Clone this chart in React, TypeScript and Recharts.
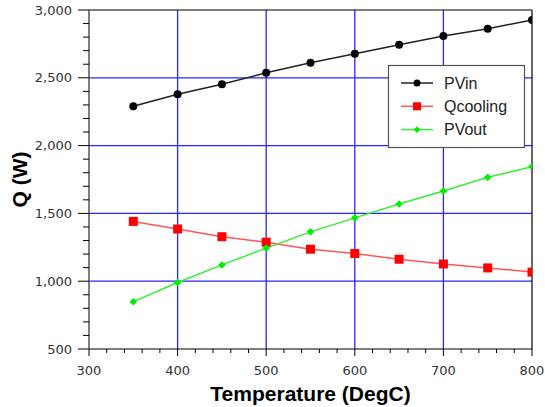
import React from 'react';
import { LineChart, Line, XAxis, YAxis, CartesianGrid, ReferenceLine, Label } from 'recharts';

// ---- data ----
const temperatures = [350, 400, 450, 500, 550, 600, 650, 700, 750, 800];
const pvIn = [2290, 2379, 2453, 2537, 2611, 2678, 2744, 2808, 2862, 2926];
const qCooling = [1441, 1385, 1328, 1288, 1236, 1204, 1162, 1127, 1098, 1067];
const pvOut = [849, 990, 1120, 1244, 1364, 1467, 1569, 1665, 1766, 1845];

const xMajorTicks = [300, 400, 500, 600, 700, 800];
const xAllTicks = [300, 320, 340, 360, 380, 400, 420, 440, 460, 480, 500, 520, 540, 560, 580, 600, 620, 640, 660, 680, 700, 720, 740, 760, 780, 800];
const yMajorTicks = [500, 1000, 1500, 2000, 2500, 3000];
const yAllTicks = [500, 600, 700, 800, 900, 1000, 1100, 1200, 1300, 1400, 1500, 1600, 1700, 1800, 1900, 2000, 2100, 2200, 2300, 2400, 2500, 2600, 2700, 2800, 2900, 3000];
const xGridValues = [400, 500, 600, 700];
const yGridValues = [1000, 1500, 2000, 2500];

const seriesNames = ['PVin', 'Qcooling', 'PVout'];
const xTitle = 'Temperature (DegC)';
const yTitle = 'Q (W)';

const data = temperatures.map((t, i) => ({ t, PVin: pvIn[i], Qcooling: qCooling[i], PVout: pvOut[i] }));

// ---- layout ----
const W = 545;
const H = 407;
const MARGIN = { top: 10, right: 13, bottom: 0, left: 0 };
const Y_AXIS_W = 89;
const X_AXIS_H = 58;
const PLOT_LEFT = MARGIN.left + Y_AXIS_W;
const PLOT_RIGHT = W - MARGIN.right;
const PLOT_TOP = MARGIN.top;
const PLOT_BOTTOM = H - X_AXIS_H - MARGIN.bottom;

const tickFont = { fontFamily: '"DejaVu Sans", sans-serif', fontSize: 13, fill: '#333' };
const titleFont = { fontFamily: '"Liberation Sans", Arial, sans-serif', fontSize: 21, fontWeight: 700, fill: '#000' };

const fmt = (v: number) => v.toLocaleString('en-US');

const XTick = (props: any) => {
  const { x, y, payload } = props;
  const major = xMajorTicks.includes(payload.value);
  return (
    <g>
      <line x1={x} y1={y} x2={x} y2={y + (major ? 7 : 4)} stroke="#000" strokeWidth={1} />
      {major && (
        <text x={x} y={y + 26} textAnchor="middle" {...tickFont}>
          {payload.value}
        </text>
      )}
    </g>
  );
};

const YTick = (props: any) => {
  const { x, y, payload } = props;
  const major = yMajorTicks.includes(payload.value);
  return (
    <g>
      <line x1={x - (major ? 11 : 6)} y1={y} x2={x} y2={y} stroke="#000" strokeWidth={1} />
      {major && (
        <text x={x - 17} y={y} dy="0.36em" textAnchor="end" {...tickFont}>
          {fmt(payload.value)}
        </text>
      )}
    </g>
  );
};

const CircleDot = (props: any) => {
  const { cx, cy, index } = props;
  return <circle key={`c${index}`} cx={cx} cy={cy} r={4} fill="#000" />;
};
const SquareDot = (props: any) => {
  const { cx, cy, index } = props;
  return <rect key={`s${index}`} x={cx - 4.5} y={cy - 4.5} width={9} height={9} fill="#ff0000" />;
};
const DiamondDot = (props: any) => {
  const { cx, cy, index } = props;
  const r = 3.8;
  return (
    <path key={`d${index}`} d={`M${cx},${cy - r} L${cx + r},${cy} L${cx},${cy + r} L${cx - r},${cy} Z`} fill="#00ee00" />
  );
};

const XTitle = () => (
  <text x={(PLOT_LEFT + PLOT_RIGHT) / 2} y={401} textAnchor="middle" {...titleFont}>
    {xTitle}
  </text>
);
const YTitle = () => (
  <text
    x={27}
    y={(PLOT_TOP + PLOT_BOTTOM) / 2}
    textAnchor="middle"
    transform={`rotate(-90, 27, ${(PLOT_TOP + PLOT_BOTTOM) / 2})`}
    {...titleFont}
  >
    {yTitle}
  </text>
);

const legendColors = [
  { line: '#222', marker: 'circle', fill: '#000' },
  { line: '#ff5555', marker: 'square', fill: '#ff0000' },
  { line: '#33ee33', marker: 'diamond', fill: '#00ee00' },
];

const LegendBox = () => (
  <svg
    width={137}
    height={83}
    style={{ position: 'absolute', left: 387.5, top: 64.5, overflow: 'visible' }}
  >
    <rect x={0.5} y={0.5} width={136} height={82} fill="#fff" stroke="#555" strokeWidth={1.2} />
    {seriesNames.map((name, i) => {
      const cy = 18 + i * 23.3;
      const c = legendColors[i];
      const mx = 29;
      return (
        <g key={name}>
          <line x1={13} x2={45} y1={cy} y2={cy} stroke={c.line} strokeWidth={1.5} />
          {c.marker === 'circle' && <circle cx={mx} cy={cy} r={3.5} fill={c.fill} />}
          {c.marker === 'square' && <rect x={mx - 4} y={cy - 4} width={8} height={8} fill={c.fill} />}
          {c.marker === 'diamond' && (
            <path d={`M${mx},${cy - 3.3} L${mx + 3.3},${cy} L${mx},${cy + 3.3} L${mx - 3.3},${cy} Z`} fill={c.fill} />
          )}
          <text
            x={56}
            y={cy + 5.5}
            fontFamily='"Liberation Sans", Arial, sans-serif'
            fontSize={16}
            fill="#222"
          >
            {name}
          </text>
        </g>
      );
    })}
  </svg>
);

export default function App() {
  return (
    <div style={{ position: 'absolute', left: 0, top: 0, width: W, height: H, background: '#fff' }}>
      <LineChart width={W} height={H} data={data} margin={MARGIN}>
        <CartesianGrid
          stroke="#2626ff"
          strokeWidth={1.3}
          verticalValues={xGridValues}
          horizontalValues={yGridValues}
        />
        <XAxis
          dataKey="t"
          type="number"
          domain={[300, 800]}
          ticks={xAllTicks}
          interval={0}
          height={X_AXIS_H}
          tickSize={0}
          tickMargin={0}
          tickLine={false}
          axisLine={{ stroke: '#000', strokeWidth: 1 }}
          tick={<XTick />}
          allowDataOverflow
        >
          <Label content={<XTitle />} />
        </XAxis>
        <YAxis
          type="number"
          domain={[500, 3000]}
          ticks={yAllTicks}
          interval={0}
          width={Y_AXIS_W}
          tickSize={0}
          tickMargin={0}
          tickLine={false}
          axisLine={{ stroke: '#555', strokeWidth: 1.5 }}
          tick={<YTick />}
          allowDataOverflow
        >
          <Label content={<YTitle />} />
        </YAxis>
        <ReferenceLine y={3000} stroke="#000" strokeWidth={1.2} />
        <ReferenceLine x={800} stroke="#000" strokeWidth={1.2} />
        <Line
          dataKey="PVin"
          stroke="#222"
          strokeWidth={1.5}
          dot={CircleDot}
          isAnimationActive={false}
        />
        <Line
          dataKey="Qcooling"
          stroke="#ff5555"
          strokeWidth={1.5}
          dot={SquareDot}
          isAnimationActive={false}
        />
        <Line
          dataKey="PVout"
          stroke="#33ee33"
          strokeWidth={1.5}
          dot={DiamondDot}
          isAnimationActive={false}
        />
      </LineChart>
      <LegendBox />
    </div>
  );
}
